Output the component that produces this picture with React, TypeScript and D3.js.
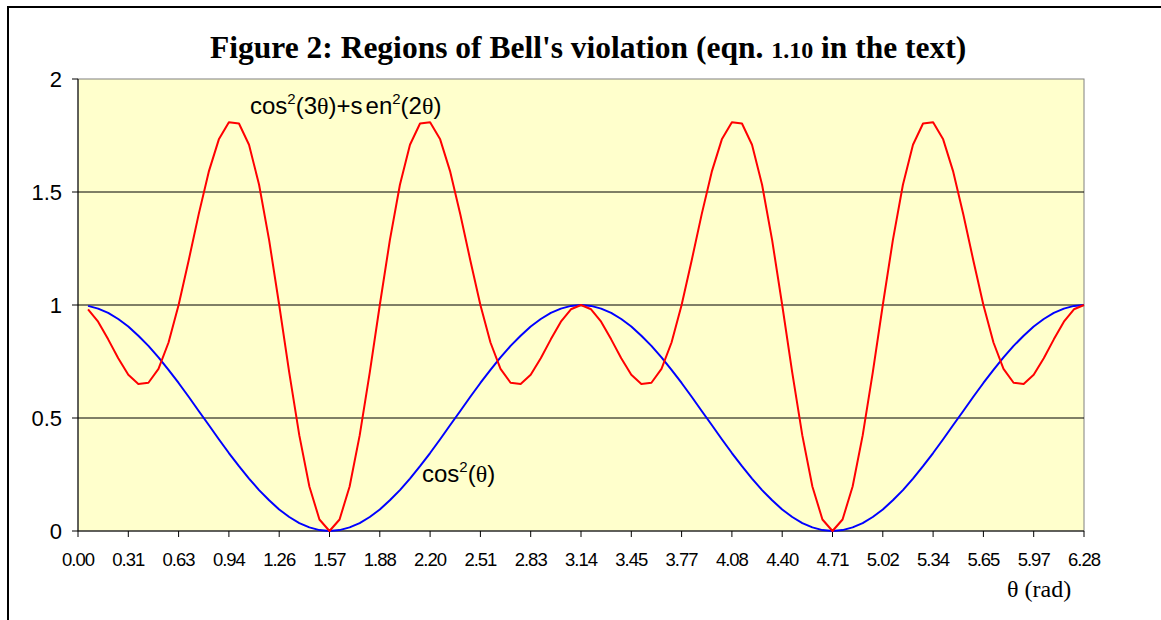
import * as d3 from 'd3';

// x positions are category indices (Excel-like category axis, 100 steps over 0..2π)
const xTickLabels = ["0.00", "0.31", "0.63", "0.94", "1.26", "1.57", "1.88", "2.20", "2.51", "2.83", "3.14",
  "3.45", "3.77", "4.08", "4.40", "4.71", "5.02", "5.34", "5.65", "5.97", "6.28"];
const yTicks = [0, 0.5, 1, 1.5, 2];

// cos²(θ), points 1..100
const cosSq = [
  0.996, 0.984, 0.965, 0.938, 0.905, 0.864, 0.819, 0.768, 0.713, 0.655,
  0.594, 0.531, 0.469, 0.406, 0.345, 0.287, 0.232, 0.181, 0.136, 0.095,
  0.062, 0.035, 0.016, 0.004, 0.000, 0.004, 0.016, 0.035, 0.062, 0.095,
  0.136, 0.181, 0.232, 0.287, 0.345, 0.406, 0.469, 0.531, 0.594, 0.655,
  0.713, 0.768, 0.819, 0.864, 0.905, 0.938, 0.965, 0.984, 0.996, 1.000,
  0.996, 0.984, 0.965, 0.938, 0.905, 0.864, 0.819, 0.768, 0.713, 0.655,
  0.594, 0.531, 0.469, 0.406, 0.345, 0.287, 0.232, 0.181, 0.136, 0.095,
  0.062, 0.035, 0.016, 0.004, 0.000, 0.004, 0.016, 0.035, 0.062, 0.095,
  0.136, 0.181, 0.232, 0.287, 0.345, 0.406, 0.469, 0.531, 0.594, 0.655,
  0.713, 0.768, 0.819, 0.864, 0.905, 0.938, 0.965, 0.984, 0.996, 1.000,
];

// cos²(3θ)+sen²(2θ), points 1..100
const bellSum = [
  0.981, 0.926, 0.848, 0.764, 0.691, 0.650, 0.656, 0.717, 0.834, 1.000,
  1.197, 1.402, 1.590, 1.733, 1.809, 1.803, 1.709, 1.532, 1.287, 1.000,
  0.701, 0.423, 0.197, 0.051, 0.000, 0.051, 0.197, 0.423, 0.701, 1.000,
  1.287, 1.532, 1.709, 1.803, 1.809, 1.733, 1.590, 1.402, 1.197, 1.000,
  0.834, 0.717, 0.656, 0.650, 0.691, 0.764, 0.848, 0.926, 0.981, 1.000,
  0.981, 0.926, 0.848, 0.764, 0.691, 0.650, 0.656, 0.717, 0.834, 1.000,
  1.197, 1.402, 1.590, 1.733, 1.809, 1.803, 1.709, 1.532, 1.287, 1.000,
  0.701, 0.423, 0.197, 0.051, 0.000, 0.051, 0.197, 0.423, 0.701, 1.000,
  1.287, 1.532, 1.709, 1.803, 1.809, 1.733, 1.590, 1.402, 1.197, 1.000,
  0.834, 0.717, 0.656, 0.650, 0.691, 0.764, 0.848, 0.926, 0.981, 1.000,
];

const W = 1161, H = 620;
const plot = { left: 78, top: 79, right: 1084, bottom: 531 };

export default function App() {
  const x = d3.scaleLinear().domain([0, 100]).range([plot.left, plot.right]);
  const y = d3.scaleLinear().domain([0, 2]).range([plot.bottom, plot.top]);

  const line = d3.line<number>()
    .x((_, i) => x(i + 1))
    .y(d => y(d));

  const sans = "Arial, 'Liberation Sans', sans-serif";
  const serif = "'Times New Roman', 'Liberation Serif', serif";

  return (
    <svg width={W} height={H} style={{ position: 'absolute', left: 0, top: 0, background: '#fff' }}>
      {/* outer frame */}
      <rect x={8} y={7} width={W + 10} height={H + 10} fill="none" stroke="#000" strokeWidth={2} />

      {/* title */}
      <text x={210} y={58} fontFamily={serif} fontWeight="bold" fontSize={31.5} fill="#000">
        Figure 2: Regions of Bell's violation (eqn. <tspan fontSize={24}>1.10</tspan> in the text)
      </text>

      {/* plot area */}
      <rect x={plot.left} y={plot.top} width={plot.right - plot.left} height={plot.bottom - plot.top}
        fill="#FFFFCC" stroke="#808080" strokeWidth={1} />

      {/* gridlines */}
      {yTicks.filter(t => t > 0 && t < 2).map(t => (
        <line key={t} x1={plot.left} x2={plot.right} y1={y(t)} y2={y(t)} stroke="#000" strokeWidth={1} />
      ))}

      {/* axes */}
      <line x1={plot.left} x2={plot.left} y1={plot.top} y2={plot.bottom} stroke="#000" strokeWidth={1} />
      <line x1={plot.left} x2={plot.right} y1={plot.bottom} y2={plot.bottom} stroke="#000" strokeWidth={1} />

      {yTicks.map(t => (
        <g key={t}>
          <line x1={plot.left - 6} x2={plot.left} y1={y(t)} y2={y(t)} stroke="#000" />
          <text x={62} y={y(t) + 8} textAnchor="end" fontFamily={sans} fontSize={22} fill="#000">{t}</text>
        </g>
      ))}

      {xTickLabels.map((lab, i) => (
        <g key={lab}>
          <line x1={x(i * 5)} x2={x(i * 5)} y1={plot.bottom} y2={plot.bottom + 6} stroke="#000" />
          <text x={x(i * 5)} y={566} textAnchor="middle" fontFamily={sans} fontSize={18.5}
            letterSpacing={-1} fill="#000">{lab}</text>
        </g>
      ))}

      {/* series */}
      <path d={line(cosSq) ?? ''} fill="none" stroke="#0000FF" strokeWidth={2} strokeLinejoin="round" />
      <path d={line(bellSum) ?? ''} fill="none" stroke="#FF0000" strokeWidth={2} strokeLinejoin="round" />

      {/* series labels */}
      <text x={250} y={114} fontFamily={sans} fontSize={24} fill="#000">
        cos<tspan dy={-10} fontSize={15}>2</tspan><tspan dy={10}>(3</tspan>
        <tspan fontFamily={serif}>θ</tspan>)+s<tspan dx={3}>en</tspan><tspan dy={-10} fontSize={15}>2</tspan>
        <tspan dy={10}>(2</tspan><tspan fontFamily={serif}>θ</tspan>)
      </text>
      <text x={422} y={482} fontFamily={sans} fontSize={24} fill="#000">
        cos<tspan dy={-10} fontSize={15}>2</tspan><tspan dy={10}>(</tspan>
        <tspan fontFamily={serif}>θ</tspan>)
      </text>

      {/* x axis title */}
      <text x={1007} y={597} fontFamily={serif} fontSize={24} fill="#000">θ (rad)</text>
    </svg>
  );
}
